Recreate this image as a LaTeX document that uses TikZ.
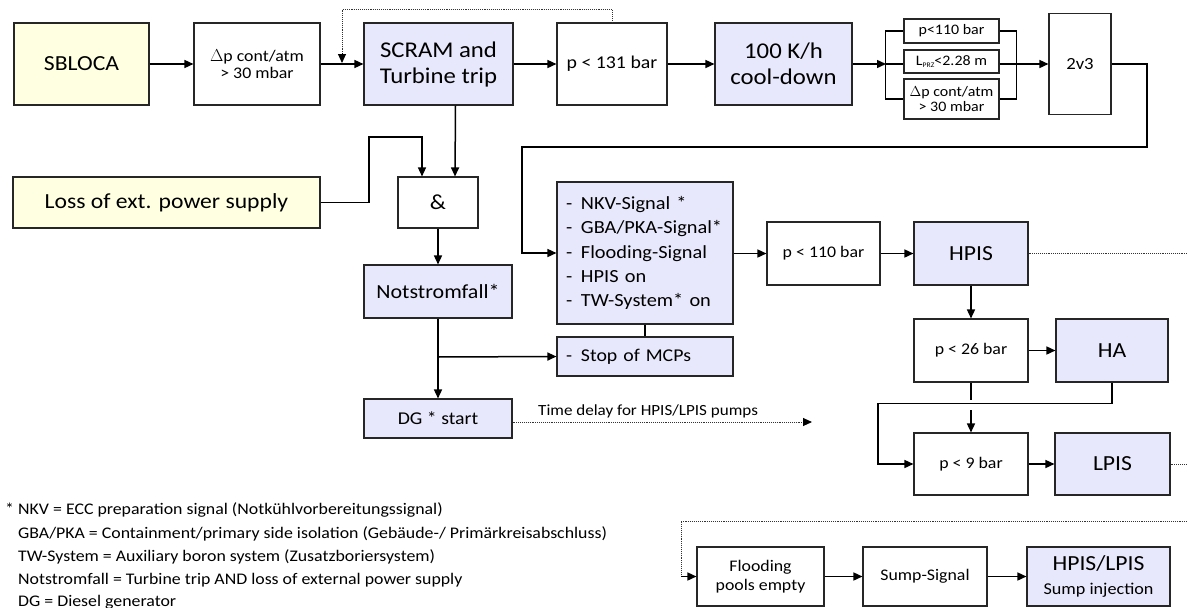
\documentclass[tikz,border=0pt]{standalone}
\usepackage{fontspec}
\setmainfont{Carlito}[FakeStretch=1.1]
\usetikzlibrary{arrows.meta}
\definecolor{yel}{RGB}{255,255,225}
\definecolor{lav}{RGB}{232,232,252}
\newcommand\dashitem{\hspace*{4pt}\makebox[15pt][l]{-}}
\begin{document}
\begin{tikzpicture}[x=1pt,y=-1pt,
 box/.style={draw=black!85, line width=1.1pt, rectangle, inner sep=0pt, align=center},
 yb/.style={box, fill=yel},
 lb/.style={box, fill=lav},
 arr/.style={line width=1.5pt, -{Triangle[length=9pt,width=8pt]}},
 ln/.style={line width=1.5pt},
 thn/.style={line width=1.1pt},
 dot/.style={line width=0.9pt, densely dotted, black!80},
 fA/.style={font=\fontsize{21.5}{25}\selectfont},
 fB/.style={font=\fontsize{22.5}{26}\selectfont},
 fC/.style={font=\fontsize{18.5}{24.3}\selectfont},
 fG/.style={font=\fontsize{18}{22}\selectfont},
 fD/.style={font=\fontsize{16.2}{17}\selectfont},
 fE/.style={font=\fontsize{14.5}{14.5}\selectfont},
 fF/.style={font=\fontsize{16.2}{19.5}\selectfont},
 ]
\useasboundingbox (0,0) rectangle (1187,608);
\fill[white] (0,0) rectangle (1187,608);

% top row
\node[yb,fA,minimum width=135pt,minimum height=82pt] (sbloca) at (81.5,64) {SBLOCA};
\node[box,fD,minimum width=126pt,minimum height=82pt] (dp) at (257,64) {$\Delta$p cont/atm\\> 30 mbar};
\node[lb,fB,minimum width=149pt,minimum height=82pt] (scram) at (438.5,64) {SCRAM and\\Turbine trip};
\node[box,font=\fontsize{18}{20}\selectfont,minimum width=110pt,minimum height=82pt] (p131) at (612,64) {\raisebox{-7pt}{p < 131 bar}};
\node[lb,fB,minimum width=137pt,minimum height=82pt] (cool) at (783.5,64) {100 K/h\\cool-down};
\node[box,fE,minimum width=95pt,minimum height=24pt] (b1) at (951.5,31) {p<110 bar};
\node[box,fE,minimum width=95pt,minimum height=23pt] (b2) at (951.5,61.5) {L{\fontsize{7}{7}\selectfont\raisebox{-2pt}{PRZ}}<2.28 m};
\node[box,fE,minimum width=95pt,minimum height=40pt] (b3) at (951.5,99) {$\Delta$p cont/atm\\> 30 mbar};
\node[box,font=\fontsize{17}{20}\selectfont,minimum width=62pt,minimum height=101pt] (v23) at (1080,64) {2v3};

% left column
\node[yb,fA,minimum width=307pt,minimum height=51pt] (loss) at (166.5,202.5) {Loss of ext. power supply};
\node[box,fA,minimum width=80pt,minimum height=51pt] (andg) at (438,202.5) {\&};
\node[lb,font=\fontsize{20}{24}\selectfont,minimum width=148pt,minimum height=53pt] (notst) at (438,291.5) {Notstromfall*};
\node[lb,fG,minimum width=148pt,minimum height=39pt] (dg) at (438,418.5) {DG * start};

% signals
\node[lb,fC,minimum width=176pt,minimum height=142pt,text width=166pt,align=left] (sig) at (645,253)
 {\dashitem NKV-Signal *\\\dashitem GBA/PKA-Signal*\\\dashitem Flooding-Signal\\\dashitem HPIS on\\\dashitem TW-System* on};
\node[lb,fG,minimum width=176pt,minimum height=39pt,text width=166pt,align=left] (stop) at (645,356.5) {\dashitem Stop of MCPs};

% right part
\node[box,fF,minimum width=113pt,minimum height=63pt] (p110) at (823.5,253.5) {p < 110 bar};
\node[lb,fA,minimum width=114pt,minimum height=63pt] (hpis) at (971,253.5) {HPIS};
\node[box,fF,minimum width=114pt,minimum height=63pt] (p26) at (971,350.5) {p < 26 bar};
\node[lb,fA,minimum width=112pt,minimum height=63pt] (ha) at (1112,350.5) {HA};
\node[box,fF,minimum width=114pt,minimum height=62pt] (p9) at (971,464) {p < 9 bar};
\node[lb,fA,minimum width=115pt,minimum height=62pt] (lpis) at (1112.5,464) {LPIS};

% bottom row
\node[box,fF,minimum width=127pt,minimum height=59pt] (flood) at (760.5,576.5) {Flooding\\pools empty};
\node[box,fF,minimum width=124pt,minimum height=59pt] (sump) at (925,576.5) {Sump-Signal};
\node[lb,font=\fontsize{16.5}{24}\selectfont,minimum width=143pt,minimum height=59pt] (hps) at (1098.5,576.5)
 {{\fontsize{21.5}{24}\selectfont HPIS/LPIS}\\Sump injection};

% footnote
\node[fF,anchor=base west,inner sep=0pt] (fn1) at (5,514) {\makebox[13pt][l]{*}NKV = ECC preparation signal (Notkühlvorbereitungssignal)};
\node[fF,anchor=base west,inner sep=0pt] (fn2) at (18,538) {GBA/PKA = Containment/primary side isolation (Gebäude-/ Primärkreisabschluss)};
\node[fF,anchor=base west,inner sep=0pt] (fn3) at (18,561) {TW-System = Auxiliary boron system (Zusatzboriersystem)};
\node[fF,anchor=base west,inner sep=0pt] (fn4) at (18,584) {Notstromfall = Turbine trip AND loss of external power supply};
\node[fF,anchor=base west,inner sep=0pt] (fn5) at (18,606) {DG = Diesel generator};

% coordinates
\coordinate (fbtip) at (342,63);
\coordinate (bl) at (886,64);
\coordinate (br) at (1016,64);
\coordinate (nbr) at (438,357);
\coordinate (hpisend) at (1187,253.5);
\coordinate (lpisend) at (1187,464);
\coordinate (topdot) at (1187,521);
\coordinate (fcorner) at (681,576.5);
\coordinate (dgend) at (812,422);

% connectors top row
\draw[arr] (sbloca) -- (dp);
\draw[arr] (dp) -- (scram);
\draw[arr] (scram) -- (p131);
\draw[arr] (p131) -- (cool);
\draw[dot] (p131.north) -- ++(0,-13) -| ([yshift=9pt]fbtip);
\draw[line width=0.9pt,-{Triangle[length=9pt,width=8pt]}] ([yshift=10pt]fbtip) -- (fbtip);
\draw[arr] (cool) -- (bl);
\draw[ln] (bl) -- (b2.west |- bl);
\draw[ln] (b1.west) -- ++(-18,0) -- ([xshift=-18pt]b3.west) -- (b3.west);
\draw[ln] (b1.east) -- ++(17,0) -- ([xshift=17pt]b3.east) -- (b3.east);
\draw[ln] (b2.east |- br) -- (br);
\draw[arr] (br) -- (v23);
\draw[arr] (v23.east) -| (1147,147) -| (522,253) -- (sig.west);

% left column
\draw[arr,line width=1.3pt] (loss.east) -| (369,137) -| ([xshift=-16pt]andg.north);
\draw[arr] ([xshift=17pt]scram.south) -- ([xshift=17pt]andg.north);
\draw[arr] (andg) -- (notst);
\draw[arr] (notst) -- (dg);
\draw[arr] (nbr) -- (stop.west);
\draw[thn] (sig.south) -- (stop.north);
\draw[dot] (dg.east |- dgend) -- ([xshift=-8pt]dgend);
\draw[line width=0.9pt,-{Triangle[length=9pt,width=8pt]}] ([xshift=-9pt]dgend) -- (dgend);
\node[font=\fontsize{15.5}{18}\selectfont,anchor=base west,inner sep=0pt] (tdl) at (538,415) {Time delay for HPIS/LPIS pumps};

% right part
\draw[arr] (sig.east |- p110) -- (p110);
\draw[arr] (p110) -- (hpis);
\draw[dot] (hpis.east) -- (hpisend);
\draw[arr] (hpis) -- (p26);
\draw[arr] (p26) -- (ha);
\draw[ln] (p26.south) -- ++(0,17);
\draw[arr] ([yshift=22pt]p9.north) -- (p9.north);
\draw[ln] (ha.south) -- ++(0,21) -| (878,430);
\draw[arr] (878,429) |- (p9.west);
\draw[arr] (p9) -- (lpis);
\draw[dot] (lpis.east) -- (lpisend);

% bottom
\draw[dot] (topdot) -| (fcorner);
\draw[arr] (fcorner) -- (flood.west);
\draw[arr] (flood) -- (sump);
\draw[arr] (sump) -- (hps);
\end{tikzpicture}
\end{document}
